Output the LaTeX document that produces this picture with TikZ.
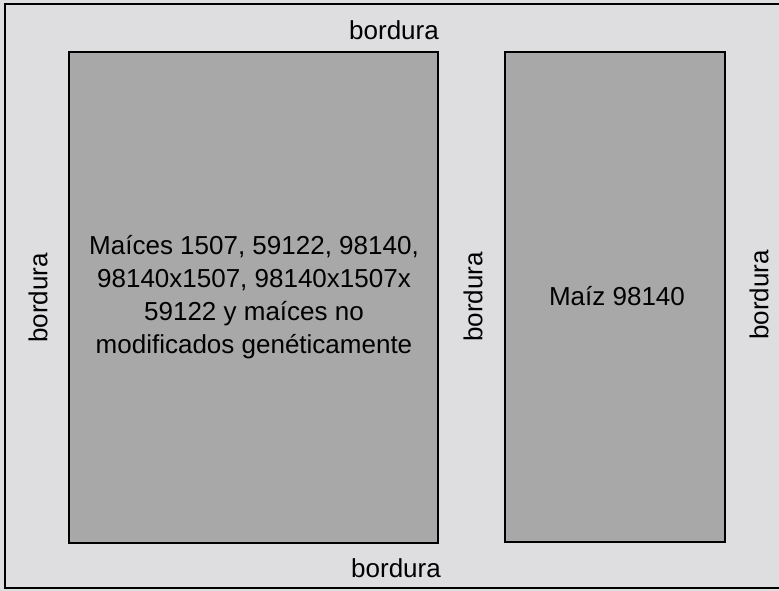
\documentclass[tikz,border=0pt]{standalone}
\usepackage{fontspec}
\setmainfont{Liberation Sans}
\definecolor{margen}{HTML}{DEDEE1}
\definecolor{parcela}{HTML}{A8A8A9}

\begin{document}
\begin{tikzpicture}[x=1pt,y=-1pt,
		plot/.style={draw=black,line width=2.6pt,fill=parcela},
		rotulo/.style={font=\fontsize{26}{33}\selectfont,inner sep=0pt,align=center}]
	\fill[margen] (0,0) rectangle (779,591);
	\useasboundingbox (0,0) rectangle (779,591);
	
	\draw[line width=2.4pt] (779,4) -- (5,4) -- (5,588) -- (779,588);
	
	\draw[plot] (69,52) rectangle (438,543);
	\draw[plot] (505,52) rectangle (725,542);
	
	\node[rotulo] (mezcla) at (254,297) {Maíces 1507, 59122, 98140,\\98140x1507, 98140x1507x\\59122 y maíces no\\modificados genéticamente};
	\node[rotulo] (maiz) at (617,296) {Maíz 98140};
	
	\node[rotulo] (bsup) at (394,30) {bordura};
	\node[rotulo] (binf) at (396,568) {bordura};
	\node[rotulo,rotate=90] (bizq) at (38,298) {bordura};
	\node[rotulo,rotate=90] (bmed) at (473,297) {bordura};
	\node[rotulo,rotate=90] (bder) at (759,295) {bordura};
\end{tikzpicture}
\end{document}
